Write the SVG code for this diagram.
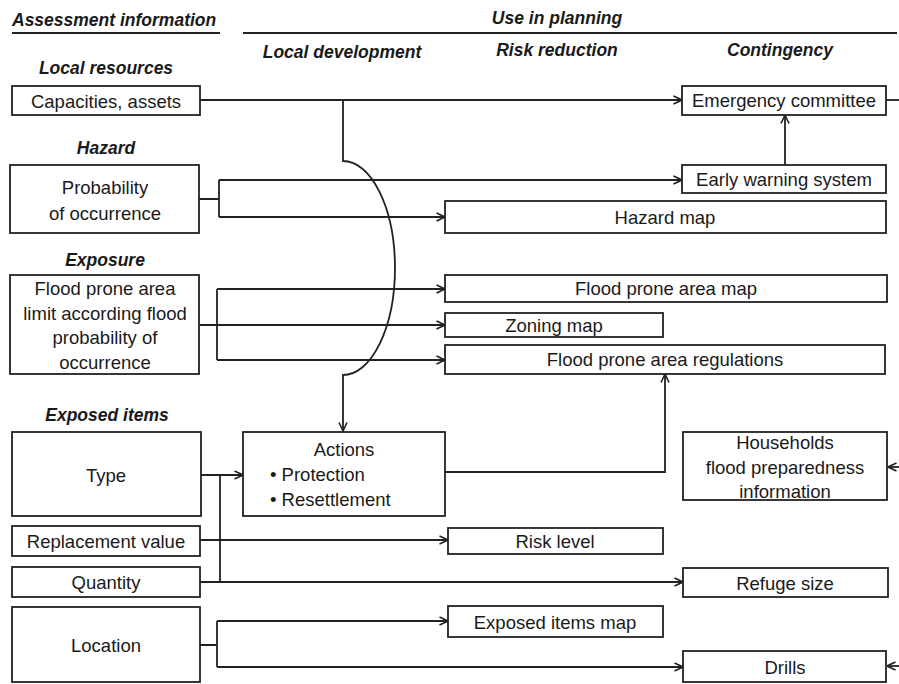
<svg xmlns="http://www.w3.org/2000/svg" width="899" height="684" viewBox="0 0 899 684">
<style>
.box{fill:#fff;stroke:#222;stroke-width:1.8}
.t{font-family:"Liberation Sans",Arial,sans-serif;font-size:18.5px;fill:#1a1a1a;text-anchor:middle;dominant-baseline:central}
.tl{text-anchor:start}
.h{font-family:"Liberation Sans",Arial,sans-serif;font-size:17.5px;font-weight:bold;font-style:italic;fill:#1a1a1a;text-anchor:middle;dominant-baseline:central}
.c{fill:none;stroke:#222;stroke-width:1.8}
.a{marker-end:url(#arr)}
</style>
<defs>
<marker id="arr" viewBox="0 0 10 10" refX="9.5" refY="5" markerWidth="10" markerHeight="10" markerUnits="userSpaceOnUse" orient="auto">
<path d="M1,1 L9.5,5 L1,9" fill="none" stroke="#222" stroke-width="1.6"/>
</marker>
</defs>
<rect width="899" height="684" fill="#fff"/>
<g id="headers">
<text class="h" x="12" y="20" style="text-anchor:start">Assessment information</text>
<line x1="12" y1="33" x2="220" y2="33" stroke="#222" stroke-width="2"/>
<text class="h" x="557" y="18">Use in planning</text>
<line x1="243" y1="33" x2="897" y2="33" stroke="#222" stroke-width="2"/>
<text class="h" x="342" y="52">Local development</text>
<text class="h" x="557" y="50">Risk reduction</text>
<text class="h" x="780" y="50">Contingency</text>
<text class="h" x="106" y="68">Local resources</text>
<text class="h" x="106" y="148">Hazard</text>
<text class="h" x="105" y="260">Exposure</text>
<text class="h" x="107" y="415">Exposed items</text>
</g>
<g id="connectors">
<path class="c a" d="M200,100 H682"/>
<path class="c a" d="M343,100 V161 A52,107 0 0 1 343,375 V431"/>
<path class="c" d="M199,199 H219 M219,180 V217"/>
<path class="c a" d="M219,180 H682"/>
<path class="c a" d="M219,217 H445"/>
<path class="c a" d="M785,165 V115"/>
<path class="c a" d="M199,325 H445"/>
<path class="c" d="M217,289 V360"/>
<path class="c a" d="M217,289 H445"/>
<path class="c a" d="M217,360 H445"/>
<path class="c a" d="M201,475 H243"/>
<path class="c" d="M220,475 V582"/>
<path class="c a" d="M200,540 H448"/>
<path class="c a" d="M200,582 H683"/>
<path class="c a" d="M445,472 H665 V374"/>
<path class="c" d="M200,645 H217 M217,621 V667"/>
<path class="c a" d="M217,621 H448"/>
<path class="c a" d="M217,667 H683"/>
<path class="c" d="M886,100 H899"/>
<path class="c a" d="M899,467 H888"/>
<path class="c a" d="M899,666 H887"/>
</g>
<g id="capacities"><rect class="box" x="12" y="86" width="188" height="29"/><text class="t" x="106" y="101">Capacities, assets</text></g>
<g id="emergency"><rect class="box" x="682" y="86" width="204" height="29"/><text class="t" x="784" y="100">Emergency committee</text></g>
<g id="probability"><rect class="box" x="10" y="165" width="189" height="68"/><text class="t" x="105" y="187">Probability</text><text class="t" x="105" y="213">of occurrence</text></g>
<g id="early-warning"><rect class="box" x="682" y="165" width="204" height="28"/><text class="t" x="784" y="179">Early warning system</text></g>
<g id="hazard-map"><rect class="box" x="445" y="201" width="441" height="32"/><text class="t" x="665" y="217">Hazard map</text></g>
<g id="flood-limit"><rect class="box" x="10" y="275" width="189" height="99"/><text class="t" x="105" y="288">Flood prone area</text><text class="t" x="105" y="313">limit according flood</text><text class="t" x="105" y="337">probability of</text><text class="t" x="105" y="362">occurrence</text></g>
<g id="flood-map"><rect class="box" x="445" y="275" width="442" height="27"/><text class="t" x="666" y="288">Flood prone area map</text></g>
<g id="zoning"><rect class="box" x="445" y="313" width="218" height="24"/><text class="t" x="554" y="325">Zoning map</text></g>
<g id="regulations"><rect class="box" x="445" y="345" width="440" height="29"/><text class="t" x="665" y="359">Flood prone area regulations</text></g>
<g id="type"><rect class="box" x="12" y="432" width="189" height="84"/><text class="t" x="106" y="475">Type</text></g>
<g id="actions"><rect class="box" x="243" y="432" width="202" height="84"/><text class="t" x="344" y="449">Actions</text><text class="t tl" x="270" y="474">• Protection</text><text class="t tl" x="270" y="499">• Resettlement</text></g>
<g id="households"><rect class="box" x="683" y="432" width="204" height="68"/><text class="t" x="785" y="442">Households</text><text class="t" x="785" y="467">flood preparedness</text><text class="t" x="785" y="491">information</text></g>
<g id="replacement"><rect class="box" x="12" y="526" width="188" height="30"/><text class="t" x="106" y="541">Replacement value</text></g>
<g id="risk-level"><rect class="box" x="448" y="528" width="215" height="26"/><text class="t" x="555" y="541">Risk level</text></g>
<g id="quantity"><rect class="box" x="12" y="567" width="188" height="30"/><text class="t" x="106" y="582">Quantity</text></g>
<g id="refuge"><rect class="box" x="683" y="568" width="205" height="29"/><text class="t" x="785" y="583">Refuge size</text></g>
<g id="location"><rect class="box" x="12" y="607" width="188" height="75"/><text class="t" x="106" y="645">Location</text></g>
<g id="exposed-map"><rect class="box" x="448" y="606" width="215" height="31"/><text class="t" x="555" y="622">Exposed items map</text></g>
<g id="drills"><rect class="box" x="683" y="651" width="203" height="31"/><text class="t" x="785" y="667">Drills</text></g>
</svg>
